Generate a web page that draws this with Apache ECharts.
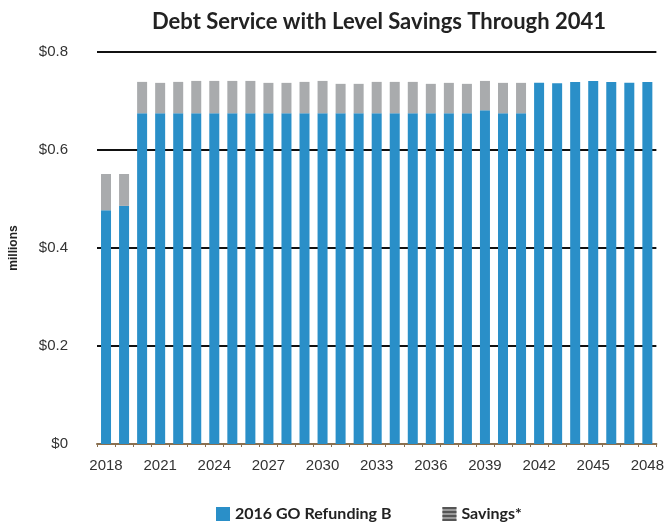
<!DOCTYPE html>
<html>
<head>
<meta charset="utf-8">
<script src="https://cdn.jsdelivr.net/npm/echarts@6/dist/echarts.min.js"></script>
<style>
html,body{margin:0;padding:0;background:#fff;}
#chart{width:667px;height:523px;}
</style>
</head>
<body>
<div id="chart"></div>
<script>
var years = ['2018','2019','2020','2021','2022','2023','2024','2025','2026','2027','2028','2029','2030','2031','2032','2033','2034','2035','2036','2037','2038','2039','2040','2041','2042','2043','2044','2045','2046','2047','2048'];
var refundingB = [0.477,0.486,0.675,0.675,0.675,0.675,0.675,0.675,0.675,0.675,0.675,0.675,0.675,0.675,0.675,0.675,0.675,0.675,0.675,0.675,0.675,0.681,0.675,0.675,0.737,0.736,0.739,0.741,0.739,0.737,0.739];
var savings = [0.074,0.065,0.064,0.062,0.064,0.066,0.066,0.066,0.066,0.062,0.062,0.064,0.066,0.060,0.060,0.064,0.064,0.064,0.060,0.062,0.060,0.060,0.062,0.062,0,0,0,0,0,0,0];
var yTicks = [0, 0.2, 0.4, 0.6, 0.8];
var seriesNames = ['2016 GO Refunding B', 'Savings*'];

var chart = echarts.init(document.getElementById('chart'));
var font = '"Liberation Sans", Arial, sans-serif';
chart.setOption({
  animation: false,
  backgroundColor: '#fff',
  title: {
    text: 'Debt Service with Level Savings Through 2041',
    left: 374, textAlign: 'center', top: 6,
    textStyle: {fontFamily: 'Lato, sans-serif', fontWeight: 'bold', fontSize: 22, color: '#222'}
  },
  legend: {
    left: 211, top: 501,
    itemWidth: 14, itemHeight: 14, itemGap: 51,
    textStyle: {fontFamily: 'Lato, sans-serif', fontWeight: 'bold', fontSize: 16, color: '#222'},
    data: [
      {name: seriesNames[0], icon: 'rect'},
      {name: seriesNames[1], icon: 'rect', itemStyle: {color: '#9a9a9a', decal: {symbol: 'rect', dashArrayX: [1, 0], dashArrayY: [2, 2], rotation: 0, color: '#555'}}}
    ]
  },
  grid: {left: 95, right: 10, top: 52, bottom: 79},
  xAxis: {
    type: 'category',
    data: years,
    axisLine: {show: true, lineStyle: {color: '#8a7050', width: 2}},
    axisTick: {show: true, interval: 0, length: 3, lineStyle: {color: '#8a7050'}},
    axisLabel: {interval: 2, margin: 14, fontFamily: font, fontSize: 15, color: '#333'}
  },
  yAxis: {
    type: 'value',
    min: yTicks[0], max: yTicks[yTicks.length - 1], interval: 0.2,
    name: 'millions', nameLocation: 'middle', nameRotate: 90, nameGap: 77,
    nameTextStyle: {fontFamily: font, fontWeight: 'bold', fontSize: 12, color: '#222'},
    axisLine: {show: false},
    axisTick: {show: false},
    axisLabel: {margin: 29, fontFamily: font, fontSize: 15, color: '#333',
      formatter: function (v) { return '$' + (v === 0 ? '0' : v.toFixed(1)); }},
    splitLine: {show: true, lineStyle: {color: '#111', width: 2}}
  },
  series: [
    {name: seriesNames[0], type: 'bar', stack: 'total', data: refundingB, barWidth: 10,
      itemStyle: {color: '#2a8fc8'}},
    {name: seriesNames[1], type: 'bar', stack: 'total', data: savings, barWidth: 10,
      itemStyle: {color: '#a9abad'}}
  ]
});
</script>
</body>
</html>
